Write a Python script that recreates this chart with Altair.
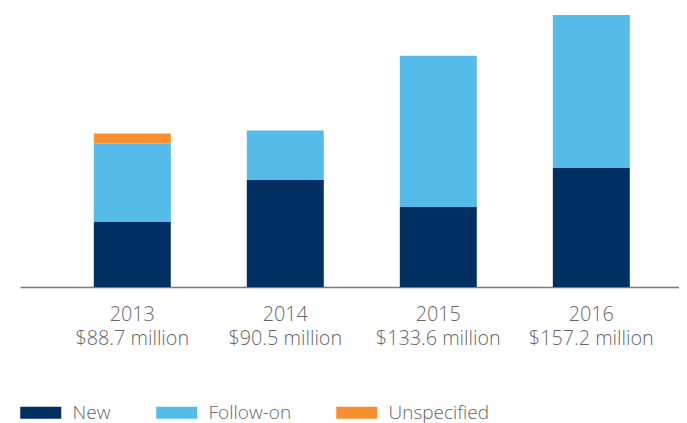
import altair as alt
import pandas as pd

years = ["2013", "2014", "2015", "2016"]
totals = ["$88.7 million", "$90.5 million", "$133.6 million", "$157.2 million"]
series = ["New", "Follow-on", "Unspecified"]
colors = ["#002f62", "#55bce9", "#f78f2e"]
new_vals = [37.6, 61.8, 46.2, 68.8]
follow_vals = [45.4, 28.7, 87.4, 88.4]
unspec_vals = [5.7, 0.0, 0.0, 0.0]

labels = [f"{y}|{t}" for y, t in zip(years, totals)]
rows = []
for i, lab in enumerate(labels):
    for k, (s, vals) in enumerate(zip(series, [new_vals, follow_vals, unspec_vals])):
        rows.append({"label": lab, "series": s, "value": vals[i], "ord": k})
df = pd.DataFrame(rows)

FONT = "Open Sans"
TXT = "#666666"

chart = alt.Chart(df).mark_bar().encode(
    x=alt.X(
        "label:N",
        sort=labels,
        scale=alt.Scale(paddingInner=0.497, paddingOuter=0.402, align=0.6),
        axis=alt.Axis(
            title=None,
            labelExpr="split(datum.label, '|')",
            ticks=False,
            domainColor="#7a7a7a",
            domainWidth=1.3,
            labelColor=TXT,
            labelFont=FONT,
            labelFontSize=19.8,
            labelFontWeight=300,
            labelLineHeight=24.5,
            labelPadding=17,
            labelAngle=0,
        ),
    ),
    y=alt.Y(
        "value:Q",
        stack="zero",
        scale=alt.Scale(domain=[0, 157.2], nice=False),
        axis=None,
    ),
    color=alt.Color(
        "series:N",
        scale=alt.Scale(domain=series, range=colors),
        legend=alt.Legend(
            title=None,
            orient="none",
            legendX=10.25,
            legendY=387,
            direction="horizontal",
            symbolType="M-2,-0.586H2V0.586H-2Z",
            symbolSize=420.25,
            symbolStrokeWidth=0,
            labelFont=FONT,
            labelFontSize=19,
            labelFontWeight=300,
            labelColor=TXT,
            labelOffset=21.25,
            columnPadding=45,
            padding=0,
        ),
    ),
    order=alt.Order("ord:Q"),
).properties(
    width=659,
    height=272,
    padding={"left": 12, "top": 7, "right": 0, "bottom": 0},
).configure_view(stroke=None)

chart.save("out.html", embed_options={"renderer": "svg", "actions": False})
